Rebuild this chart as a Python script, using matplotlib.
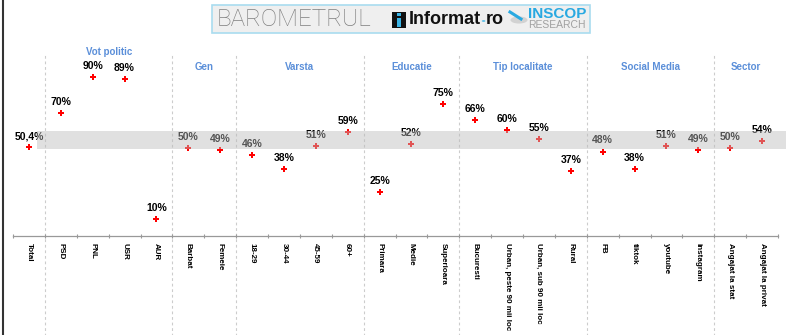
import numpy as np
import matplotlib
matplotlib.use("Agg")
import matplotlib.pyplot as plt
from matplotlib.patches import Rectangle, Circle
from matplotlib.lines import Line2D

plt.rcParams["font.family"] = ["Liberation Sans", "DejaVu Sans"]

# categories and share of respondents (%)
categories = ["Total", "PSD", "PNL", "USR", "AUR", "Barbat", "Femeie",
              "18-29", "30-44", "45-59", "60+", "Primara", "Medie", "Superioara",
              "Bucuresti", "Urban, peste 90 mii loc", "Urban, sub 90 mii loc", "Rural",
              "FB", "tiktok", "youtube", "instagram",
              "Angajat la stat", "Angajat la privat"]
values = [50.4, 70, 90, 89, 10, 50, 49,
          46, 38, 51, 59, 25, 52, 75,
          66, 60, 55, 37,
          48, 38, 51, 49,
          50, 54]
value_labels = ["50,4%"] + ["%d%%" % v for v in values[1:]]

# group headers: (name, first index, last index)
groups = [("Vot politic", 1, 4), ("Gen", 5, 6), ("Varsta", 7, 10),
          ("Educatie", 11, 13), ("Tip localitate", 14, 17),
          ("Social Media", 18, 21), ("Sector", 22, 23)]
band_low, band_high = 49.5, 59.5

W, H = 800, 335
fig = plt.figure(figsize=(W / 100, H / 100), dpi=100)
fig.patch.set_facecolor("white")

# axes placed in pixel terms: x -0.5..23.5 over px 13..778, y 0 at px 236.4
ymax = 102.6
ax = fig.add_axes([13 / W, 1 - 236.4 / H, 765 / W, (236.4 - 55) / H])
x = np.arange(len(categories))
ax.set_xlim(-0.5, len(categories) - 0.5)
ax.set_ylim(0, ymax)

ax.plot(x, values, linestyle="none", marker="P", markersize=4.2,
        color="#ff0000", markeredgewidth=0, zorder=2)
for xi, v, lab in zip(x, values, value_labels):
    ax.annotate(lab, (xi, v), xytext=(0, 8), textcoords="offset points",
                ha="center", va="center", fontsize=7.5, fontweight="bold",
                color="black", zorder=3)

# grey reference band, drawn over the marks so the ones inside look faded
ax.add_patch(Rectangle((0.25, band_low), 23.76 - 0.25, band_high - band_low,
                       facecolor="#bbbbbb", alpha=0.45, edgecolor="none",
                       zorder=5, clip_on=False))

# dashed separators between groups, running down through the labels
for name, first, last in groups:
    ax.vlines(first - 0.5, -60, ymax, colors="#cccccc", linestyles=(0, (2.5, 2.5)),
              linewidth=0.8, clip_on=False, zorder=1)
    ypos = 104.3 if name == "Vot politic" else 95.9
    ax.text((first + last) / 2, ypos, name, ha="center", va="center",
            fontsize=7, fontweight="bold", color="#5b8fd9")

for s in ["top", "right", "left"]:
    ax.spines[s].set_visible(False)
ax.spines["bottom"].set_color("#999999")
ax.spines["bottom"].set_linewidth(0.9)
ax.set_yticks([])
ax.set_xticks(x)
ax.set_xticklabels(categories, rotation=270, fontsize=5.8, fontweight="bold")
ax.tick_params(axis="x", which="major", length=0, pad=5)
ax.set_xticks(np.arange(-0.5, len(categories)), minor=True)
ax.tick_params(axis="x", which="minor", length=3, direction="inout",
               color="#999999", width=0.8)

# left border line
fig.add_artist(Line2D([2.5 / W, 2.5 / W], [0, 1], color="#333333", linewidth=1.5))

# banner
fig.add_artist(Rectangle((212 / W, 1 - 33 / H), 378 / W, 28 / H,
                         facecolor="#efefef", edgecolor="#a9dcef", linewidth=1.2))
fig.text(217 / W, 1 - 19 / H, "BAROMETRUL", fontsize=17.5, color="#7f7f7f",
         family="Roboto", fontweight="light", va="center", ha="left")
fig.add_artist(Rectangle((392 / W, 1 - 28 / H), 14 / W, 16 / H,
                         facecolor="#111111", edgecolor="none"))
fig.add_artist(Rectangle((397 / W, 1 - 27 / H), 4 / W, 9 / H,
                         facecolor="#3ab4e6", edgecolor="none"))
fig.add_artist(Rectangle((397 / W, 1 - 16 / H), 4 / W, 2.5 / H,
                         facecolor="#3ab4e6", edgecolor="none"))

# "Informat" + blue dot + "ro"
renderer = fig.canvas.get_renderer()
t1 = fig.text(409 / W, 1 - 20 / H, "Informat", fontsize=13, color="#111111",
              fontweight="bold", va="center", ha="left")
x1 = t1.get_window_extent(renderer).x1
fig.add_artist(Circle(((x1 + 2.5) / W, 1 - 21 / H), 1.8 / W, facecolor="#3ab4e6",
                      edgecolor="none"))
fig.text((x1 + 5) / W, 1 - 20 / H, "ro", fontsize=13, color="#111111",
         fontweight="bold", va="center", ha="left")

fig.add_artist(Circle((519 / W, 1 - 20 / H), 8.5 / W, facecolor="#d2d2d2",
                      edgecolor="none"))
fig.add_artist(Line2D([510 / W, 521 / W], [1 - 12 / H, 1 - 19 / H],
                      color="#29a9e1", linewidth=2.2))
fig.text(557 / W, 1 - 14.5 / H, "INSCOP", fontsize=11, color="#29a9e1",
         fontweight="bold", va="center", ha="center")
fig.text(557 / W, 1 - 25.5 / H, "RESEARCH", fontsize=7.5, color="#a0a0a0",
         va="center", ha="center")

fig.savefig("out.png", dpi=100, facecolor="white")
